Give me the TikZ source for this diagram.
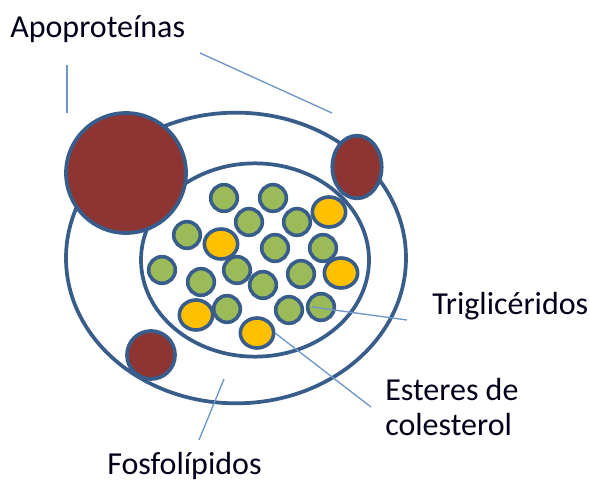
\documentclass[tikz,border=0pt]{standalone}
\usepackage{fontspec}
\setmainfont{Carlito}
\usepackage{xcolor}
\definecolor{lpborde}{RGB}{56,93,138}
\definecolor{lplinea}{RGB}{110,150,200}
\definecolor{lpapo}{RGB}{142,52,50}
\definecolor{lptri}{RGB}{155,187,89}
\definecolor{lpest}{RGB}{255,192,0}
\usetikzlibrary{shapes.geometric}

\begin{document}
\begin{tikzpicture}[x=0.75pt, y=-0.75pt,
    capa/.style={draw=lpborde, line width=2.8pt, ellipse, inner sep=0pt},
    apo/.style={capa, fill=lpapo},
    tri/.style={capa, fill=lptri, line width=2.7pt, minimum width=20pt, minimum height=20pt},
    est/.style={capa, fill=lpest, line width=2.7pt, minimum width=25pt, minimum height=22.5pt},
    guia/.style={lplinea, line width=1pt},
    rotulo/.style={font=\fontsize{24}{28}\selectfont, text=black!90!blue, inner sep=0pt, anchor=west}]
  \useasboundingbox (0,0) rectangle (590,481);

  % Shell and core
  \node[capa, minimum width=255pt, minimum height=218pt] (shell) at (236,258) {};
  \node[capa, minimum width=171pt, minimum height=145pt] (core) at (255,260) {};

  % Triglycerides
  \foreach \i/\x/\y in {1/224/198, 2/273/198, 3/249/222, 4/297/222, 5/187/235,
                        6/275/248, 7/323/248, 8/162/270, 9/237/270, 10/201/282,
                        11/263/285, 12/301/274, 13/227/309, 14/289/310, 15/321/307} {
      \node[tri] (t\i) at (\x,\y) {};
  }

  % Cholesterol esters
  \foreach \i/\x/\y in {1/329/212, 2/221/244, 3/341/273, 4/196/315, 5/257/333} {
      \node[est] (e\i) at (\x,\y) {};
  }

  % Apoproteins on the shell
  \node[apo, minimum width=90pt, minimum height=90pt] (a1) at (126,173) {};
  \node[apo, minimum width=37pt, minimum height=47pt] (a2) at (357,167) {};
  \node[apo, minimum width=36pt, minimum height=36pt] (a3) at (151,355) {};

  % Labels
  \node[rotulo] (lapo) at (10,29) {Apoproteínas};
  \node[rotulo] (ltri) at (432,306) {Triglicéridos};
  \node[rotulo] (lest) at (385,390) {Esteres de};
  \node[rotulo] (lcol) at (385,425) {colesterol};
  \node[rotulo] (lfos) at (107,466) {Fosfolípidos};

  % Leader lines
  \coordinate (g1a) at (67,65);
  \coordinate (g1b) at (67,113);
  \coordinate (g2a) at (200,53);
  \coordinate (g2b) at (332,113);
  \coordinate (g3a) at (407,320);
  \coordinate (g3b) at (312,307);
  \coordinate (g4a) at (371,407);
  \coordinate (g4b) at (275,333);
  \coordinate (g5a) at (199,440);
  \coordinate (g5b) at (224,379);
  \draw[guia] (g1a) -- (g1b);
  \draw[guia] (g2a) -- (g2b);
  \draw[guia] (g3a) -- (g3b);
  \draw[guia] (g4a) -- (g4b);
  \draw[guia] (g5a) -- (g5b);
\end{tikzpicture}
\end{document}
